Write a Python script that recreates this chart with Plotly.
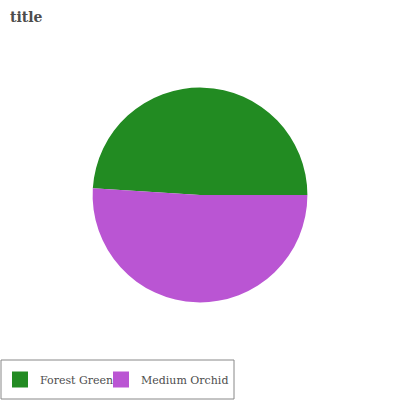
import plotly.graph_objects as go

labels = ["Forest Green", "Medium Orchid"]
values = [49, 51]
colors = ["#228B22", "#BA55D3"]
legend_ids = ["legend", "legend2"]

fig = go.Figure()
fig.add_trace(go.Pie(
    labels=labels, values=values, sort=False, direction="clockwise",
    rotation=-86.4, marker=dict(colors=colors, line=dict(width=0)),
    textinfo="none", hoverinfo="label+percent", showlegend=False,
    domain=dict(x=[0.231, 0.769], y=[0.244, 0.781]),
))
for lab, col, lg in zip(labels, colors, legend_ids):
    fig.add_trace(go.Scatter(
        x=[None], y=[None], mode="markers", name=lab, legend=lg,
        marker=dict(symbol="square", size=17, color=col),
    ))

legend_font = dict(family="DejaVu Serif", size=11, color="#4d4d4d")
fig.update_xaxes(visible=False)
fig.update_yaxes(visible=False)
fig.update_layout(
    width=400, height=400, margin=dict(l=0, r=0, t=0, b=0),
    paper_bgcolor="white", plot_bgcolor="white",
    title=dict(text="<b>title</b>", x=0.025, xanchor="left", y=0.957, yanchor="middle",
               font=dict(family="DejaVu Serif", size=14, color="#4d4d4d")),
    showlegend=True,
    legend=dict(orientation="h", x=0.0, y=0.015, xanchor="left", yanchor="bottom",
                borderwidth=0, bgcolor="rgba(0,0,0,0)", font=legend_font),
    legend2=dict(orientation="h", x=0.2525, y=0.015, xanchor="left", yanchor="bottom",
                 borderwidth=0, bgcolor="rgba(0,0,0,0)", font=legend_font),
    shapes=[dict(type="rect", xref="paper", yref="paper",
                 x0=0.0025, x1=0.585, y0=0.0025, y1=0.1,
                 line=dict(color="#888888", width=1), fillcolor="rgba(0,0,0,0)")],
)
fig.write_html("out.html", config={"displayModeBar": False},
               post_script="document.body.style.margin='0';window.dispatchEvent(new Event('resize'));")
